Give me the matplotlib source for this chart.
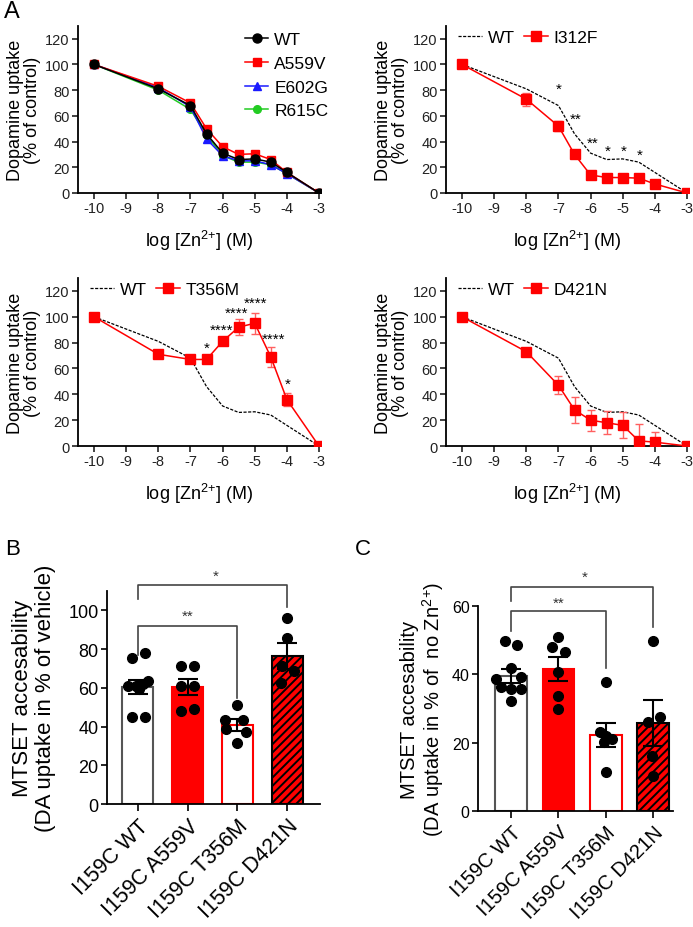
import numpy as np
from matplotlib import pyplot as plt
from matplotlib.lines import Line2D

plt.rcParams['font.family'] = ['Liberation Sans', 'DejaVu Sans']
plt.rcParams['mathtext.default'] = 'regular'
plt.rcParams['hatch.linewidth'] = 1.4
plt.rcParams['axes.linewidth'] = 1.3

# ---- panel A: Zn2+ dose response (% of control)
log_zn = [-10, -8, -7, -6.5, -6, -5.5, -5, -4.5, -4, -3]
xticks_a = [-10, -9, -8, -7, -6, -5, -4, -3]

wt = [100, 81, 68, 46, 31, 26, 26.5, 24, 16, 0]
a559v = [100, 83, 70, 50, 36, 30, 30.5, 26, 16, 0]
e602g = [100, 82, 67, 42, 29, 25, 25, 22, 15, 0]
r615c = [100, 80, 65, 45, 29, 24, 24, 22, 15, 0]

i312f = [100, 73, 52, 30, 14, 12, 12, 11.5, 7, 0]
i312f_err = [0, 5, 4, 2, 2, 1.5, 1.5, 1.5, 1, 0]
i312f_stars = [(-7, 81, '*'), (-6.45, 58, '**'), (-5.92, 39, '**'),
               (-5.48, 33, '*'), (-4.98, 33, '*'), (-4.48, 30, '*')]

t356m = [100, 71, 67, 67, 81, 92, 95, 69, 36, 0]
t356m_err = [0, 3, 3, 3, 2, 6, 8, 8, 5, 0]
t356m_stars = [(-6.5, 76, '*'), (-6.03, 90, '****'), (-5.58, 103, '****'),
               (-4.96, 111, '****'), (-4.43, 83, '****'), (-3.96, 48, '*')]

d421n = [100, 73, 47, 28, 20, 18, 16, 4, 3, 0]
d421n_err = [0, 3, 7, 10, 8, 9, 10, 13, 8, 0]

# ---- panels B and C: MTSET accessibility
groups = ['I159C WT', 'I159C A559V', 'I159C T356M', 'I159C D421N']

b_means = [60.5, 60.5, 40.8, 76.5]
b_sem = [3.8, 4.3, 3.0, 6.8]
b_points = [
    [75.3, 77.8, 61, 61, 61.9, 63.6, 59.3, 45.2, 45.2],
    [71.3, 71.3, 61, 61, 48.1, 49],
    [51, 43.3, 43.3, 38.7, 37, 31.4],
    [96.2, 85.6, 71.3, 68.7, 62.4],
]
b_jitter = [
    [-0.12, 0.15, -0.2, -0.04, 0.1, 0.2, 0.03, -0.12, 0.15],
    [-0.13, 0.13, -0.13, 0.13, -0.13, 0.13],
    [0.0, -0.25, 0.12, -0.22, 0.18, 0.0],
    [0.0, 0.0, -0.1, 0.13, -0.13],
]

c_means = [39.5, 41.5, 22.3, 25.8]
c_sem = [2.0, 3.5, 3.6, 6.8]
c_points = [
    [49.8, 48.6, 42.0, 38.6, 39.1, 36.2, 35.7, 35.7, 32.1],
    [50.8, 47.9, 46.4, 40.6, 33.7, 29.9],
    [37.8, 23.2, 22.0, 21.1, 20.1, 11.5],
    [49.8, 27.4, 26.0, 16.2, 10.3],
]
c_jitter = [
    [-0.12, 0.13, 0.0, -0.31, 0.21, -0.21, 0.0, 0.21, 0.0],
    [0.0, -0.14, 0.14, 0.0, 0.0, 0.0],
    [0.0, -0.13, 0.0, 0.12, -0.03, 0.0],
    [0.0, 0.14, -0.1, -0.03, 0.0],
]

RED = '#ff0000'
ZN = 'Zn$^{2}$$^{+}$'


def style_dose_axis(ax):
    ax.set_xlim(-10.5, -2.95)
    ax.set_ylim(0, 130)
    ax.set_xticks(xticks_a)
    ax.set_xticklabels([str(t) for t in xticks_a])
    ax.set_yticks(range(0, 121, 20))
    ax.spines['top'].set_visible(False)
    ax.spines['right'].set_visible(False)
    ax.tick_params(labelsize=10.5, length=4, width=1.2, pad=2, colors='#222222')
    ax.set_xlabel('log [' + ZN + '] (M)', fontsize=13, labelpad=9)
    ax.set_ylabel('Dopamine uptake\n(% of control)', fontsize=13, labelpad=3,
                  linespacing=1.0)


def mutant_panel(ax, vals, err, name, stars=None):
    ax.plot(log_zn, wt, color='black', lw=0.9, ls=(0, (2.5, 1.2)), zorder=2)
    ax.errorbar(log_zn, vals, yerr=err, color=RED, lw=1.1, marker='s', ms=7,
                capsize=3, elinewidth=1.0, ecolor='#ff6060', zorder=3)
    for x, y, s in (stars or []):
        ax.text(x, y, s, ha='center', va='center', fontsize=11)
    style_dose_axis(ax)
    handles = [Line2D([], [], color='black', lw=0.9, ls=(0, (2.5, 1.2))),
               Line2D([], [], color=RED, lw=1.1, marker='s', ms=7)]
    ax.legend(handles, ['WT', name], loc='upper left', bbox_to_anchor=(0.05, 0.975),
              ncol=2, frameon=False, fontsize=12.5, handlelength=1.35,
              handletextpad=0.35, columnspacing=0.55, borderpad=0, borderaxespad=0)


fig = plt.figure(figsize=(6.93, 9.28), dpi=100)

ax1 = fig.add_axes([0.1126, 0.791, 0.350, 0.180])
ax1.plot(log_zn, r615c, color='#22cc22', marker='o', ms=5.5, lw=1.1, label='R615C', zorder=2)
ax1.plot(log_zn, e602g, color='#1a1aff', marker='^', ms=6, lw=1.1, label='E602G', zorder=3)
ax1.plot(log_zn, a559v, color=RED, marker='s', ms=6, lw=1.1, label='A559V', zorder=4)
ax1.plot(log_zn, wt, color='black', marker='o', ms=6.5, lw=1.1, label='WT', zorder=5)
style_dose_axis(ax1)
h, l = ax1.get_legend_handles_labels()
ax1.legend(h[::-1], l[::-1], loc='upper left', bbox_to_anchor=(0.688, 0.965), frameon=False,
           fontsize=12.5, handlelength=1.35, handletextpad=0.35, labelspacing=0.5,
           borderpad=0, borderaxespad=0)

ax2 = fig.add_axes([0.6436, 0.791, 0.350, 0.180])
mutant_panel(ax2, i312f, i312f_err, 'I312F', i312f_stars)

ax3 = fig.add_axes([0.1126, 0.5183, 0.350, 0.181])
mutant_panel(ax3, t356m, t356m_err, 'T356M', t356m_stars)

ax4 = fig.add_axes([0.6436, 0.5183, 0.350, 0.181])
mutant_panel(ax4, d421n, d421n_err, 'D421N')


def bar_panel(ax, means, sem, points, jitter, width, tick_fs, lab_fs):
    pos = np.arange(len(groups))
    faces = ['white', RED, 'white', RED]
    edges = ['#555555', RED, RED, 'black']
    hatches = [None, None, None, '////']
    for i in range(len(groups)):
        ax.bar(pos[i], means[i], width=width, color=faces[i], edgecolor=edges[i],
               linewidth=1.5, hatch=hatches[i], zorder=2)
        ax.errorbar(pos[i], means[i], yerr=sem[i], color='black', lw=1.5,
                    capsize=7, capthick=1.5, zorder=4)
        ax.plot(pos[i] + np.array(jitter[i]), points[i], 'o', color='black', ms=7,
                zorder=3, clip_on=False)
    ax.set_xticks(pos)
    ax.set_xticklabels(groups, rotation=45, ha='right', rotation_mode='anchor',
                       fontsize=lab_fs)
    ax.spines['top'].set_visible(False)
    ax.spines['right'].set_visible(False)
    ax.tick_params(axis='y', labelsize=tick_fs, length=4, width=1.2, pad=2)
    ax.tick_params(axis='x', length=5, width=1.2, pad=3)


def bracket(ax, x0, x1, y, yl, yr, text, ty, tx):
    ax.plot([x0, x0, x1, x1], [yl, y, y, yr], color='#444444', lw=1.2,
            clip_on=False, zorder=5)
    ax.text(tx, ty, text, ha='center', va='center', fontsize=11, color='#333333')


axb = fig.add_axes([0.1544, 0.1325, 0.3074, 0.2295])
bar_panel(axb, b_means, b_sem, b_points, b_jitter, 0.62, 13, 15.5)
axb.set_xlim(-0.62, 3.66)
axb.set_ylim(0, 110)
axb.set_yticks(range(0, 101, 20))
axb.set_ylabel('MTSET accesability\n(DA uptake in % of vehicle)', fontsize=16,
               labelpad=9, linespacing=1.1)
bracket(axb, 0, 3, 113, 106, 102, '*', 118, 1.57)
bracket(axb, 0, 2, 92, 77, 55, '**', 97, 1.0)

axc = fig.add_axes([0.6898, 0.125, 0.2814, 0.2209])
bar_panel(axc, c_means, c_sem, c_points, c_jitter, 0.67, 11.5, 14.5)
axc.set_xlim(-0.70, 3.42)
axc.set_ylim(0, 60)
axc.set_yticks(range(0, 61, 20))
axc.set_ylabel('MTSET accesability\n(DA uptake in % of  no ' + ZN + ')', fontsize=14.5,
               labelpad=4, linespacing=1.05)
bracket(axc, 0, 3, 65.6, 61.5, 54, '*', 68.5, 1.56)
bracket(axc, 0, 2, 58.5, 52.7, 42, '**', 61, 1.0)

fig.text(0.005, 0.9806, 'A', fontsize=17, va='baseline')
fig.text(0.008, 0.4015, 'B', fontsize=16, va='baseline')
fig.text(0.512, 0.4015, 'C', fontsize=16, va='baseline')

fig.savefig('out.png', dpi=100, facecolor='white')
